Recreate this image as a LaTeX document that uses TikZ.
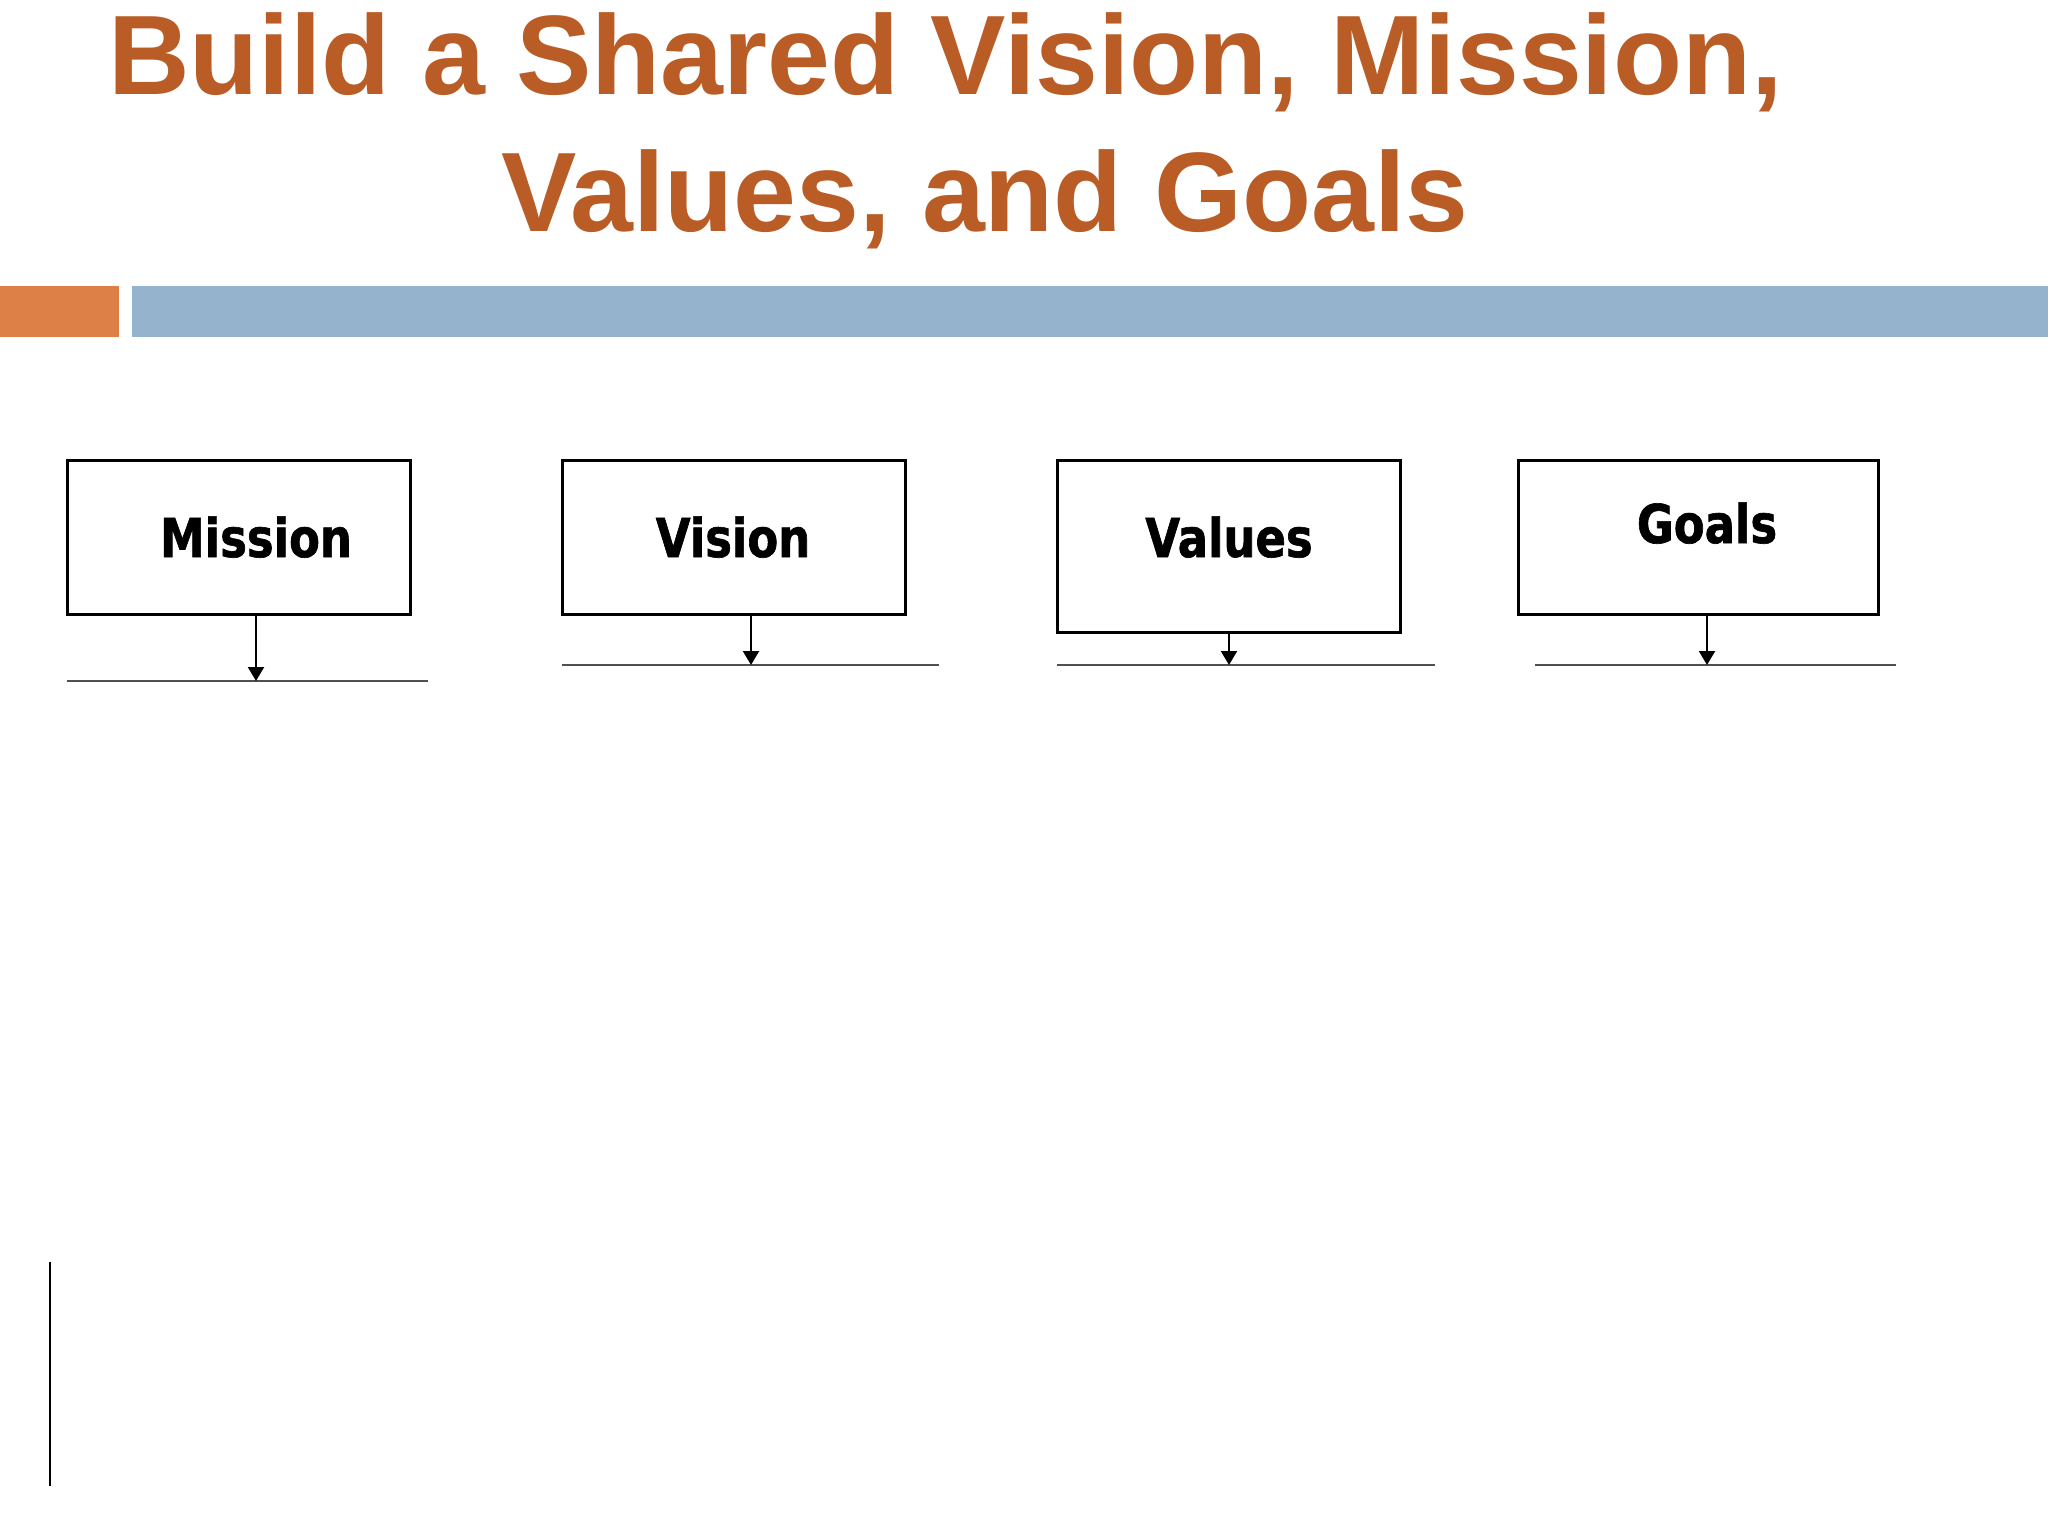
\documentclass[tikz,border=0pt]{standalone}
\usepackage{fontspec}
\setmainfont{Liberation Sans}
\newfontfamily\boxfont[FakeStretch=0.84, BoldFeatures={FakeBold=1.2}]{DejaVu Sans}
\usetikzlibrary{arrows.meta}
\definecolor{titlebrown}{RGB}{185,92,37}
\definecolor{barorange}{RGB}{221,128,71}
\definecolor{barblue}{RGB}{149,179,205}
\definecolor{rulegray}{RGB}{80,80,80}
\tikzset{
  titletext/.style={inner sep=0pt, anchor=base west, text=titlebrown, font=\fontsize{113}{113}\selectfont\bfseries},
  stepbox/.style={draw=black, line width=3pt, rectangle, inner sep=0pt},
  boxlabel/.style={inner sep=0pt, anchor=base, font=\boxfont\bfseries\fontsize{53.5}{53.5}\selectfont},
  downarrow/.style={draw=black, line width=2.2pt, -{Triangle[width=16pt,length=14pt]}, shorten >=0pt},
  baseline rule/.style={draw=rulegray, line width=1.6pt},
}
\begin{document}
\begin{tikzpicture}[x=1pt,y=-1pt]
\useasboundingbox (0,0) rectangle (2048,1536);
\fill[white] (0,0) rectangle (2048,1536);
% title
\node[titletext] (title1) at (108,95) {Build a Shared Vision, Mission,};
\node[titletext] (title2) at (501,231) {Values, and Goals};
% bars
\fill[barorange] (0,286) rectangle (119,337);
\fill[barblue] (132,286) rectangle (2048,337);
% boxes
\node[stepbox, minimum width=343pt, minimum height=154pt] (mission) at (238.5,537) {};
\node[stepbox, minimum width=343pt, minimum height=154pt] (vision) at (733.5,537) {};
\node[stepbox, minimum width=343pt, minimum height=172pt] (values) at (1228.5,546) {};
\node[stepbox, minimum width=360pt, minimum height=154pt] (goals) at (1698,537) {};
% labels
\node[boxlabel] (missionlabel) at (256,557) {Mission};
\node[boxlabel] (visionlabel) at (733,557) {Vision};
\node[boxlabel] (valueslabel) at (1229,557) {Values};
\node[boxlabel] (goalslabel) at (1707,543) {Goals};
% rules
\coordinate (m1) at (67,681); \coordinate (m2) at (428,681);
\coordinate (v1) at (562,665); \coordinate (v2) at (939,665);
\coordinate (a1) at (1057,665); \coordinate (a2) at (1435,665);
\coordinate (g1) at (1535,665); \coordinate (g2) at (1896,665);
\draw[baseline rule] (m1) -- (m2);
\draw[baseline rule] (v1) -- (v2);
\draw[baseline rule] (a1) -- (a2);
\draw[baseline rule] (g1) -- (g2);
% arrow tips
\coordinate (mtip) at (256,681);
\coordinate (vtip) at (751,665);
\coordinate (atip) at (1229,665);
\coordinate (gtip) at (1707,665);
\draw[downarrow] (mission.south -| mtip) -- (mtip);
\draw[downarrow] (vision.south -| vtip) -- (vtip);
\draw[downarrow] (values.south -| atip) -- (atip);
\draw[downarrow] (goals.south -| gtip) -- (gtip);
% left vertical line
\coordinate (vl1) at (50,1262); \coordinate (vl2) at (50,1486);
\draw[black, line width=1.6pt] (vl1) -- (vl2);
\end{tikzpicture}
\end{document}
